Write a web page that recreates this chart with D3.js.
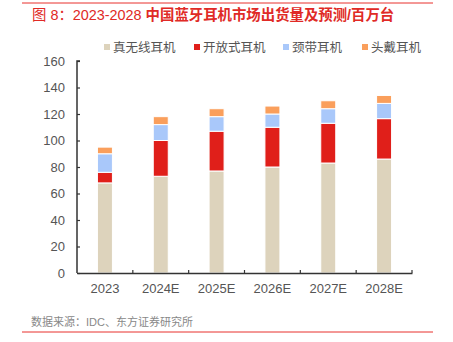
<!DOCTYPE html>
<html>
<head>
<meta charset="utf-8">
<script src="https://cdn.jsdelivr.net/npm/d3@7"></script>
<style>
  body { margin: 0; background: #fff; }
  svg { display: block; font-family: "Liberation Sans", "Noto Sans CJK SC", sans-serif; }
</style>
</head>
<body>
<svg id="chart" width="453" height="342"></svg>
<script>
var years = ["2023", "2024E", "2025E", "2026E", "2027E", "2028E"];
var seriesNames = ["真无线耳机", "开放式耳机", "颈带耳机", "头戴耳机"];
var tws = [68, 73, 77, 80, 83, 86];
var openEar = [8, 27, 30, 30, 30, 30.5];
var neckband = [14, 12, 11, 10, 11, 11.5];
var headset = [5, 6, 6, 6, 6, 6];
var yTicks = [0, 20, 40, 60, 80, 100, 120, 140, 160];
var colors = ["#ddd3bc", "#e01f1a", "#a9c8fa", "#fa9f5c"];

var svg = d3.select("#chart");

// red rules top and bottom
svg.append("line").attr("x1", 22).attr("x2", 433).attr("y1", 3).attr("y2", 3)
  .style("stroke", "#e8312c").style("stroke-width", 1);
svg.append("line").attr("x1", 22).attr("x2", 433).attr("y1", 332).attr("y2", 332)
  .style("stroke", "#e8312c").style("stroke-width", 1);

// title
var title = svg.append("text").attr("x", 32).attr("y", 20)
  .style("fill", "#e02a26").style("font-size", "14.4px");
title.append("tspan").text("图 8：2023-2028 ");
title.append("tspan").style("font-weight", "bold").text("中国蓝牙耳机市场出货量及预测/百万台");

var rows = years.map(function(y, i) {
  return {year: y, s0: tws[i], s1: openEar[i], s2: neckband[i], s3: headset[i]};
});
var stack = d3.stack().keys(["s0", "s1", "s2", "s3"])(rows);

var x = d3.scaleBand().domain(years).range([77, 412]).paddingInner(0).paddingOuter(0);
var y = d3.scaleLinear().domain([0, 160]).range([273, 61]);
var barW = 15;

var g = svg.append("g");
stack.forEach(function(layer, k) {
  g.selectAll("rect.s" + k)
    .data(layer)
    .enter().append("rect")
    .attr("x", function(d) { return x(d.data.year) + x.bandwidth() / 2 - barW / 2; })
    .attr("y", function(d) { return y(d[1]); })
    .attr("width", barW)
    .attr("height", function(d) { return y(d[0]) - y(d[1]); })
    .style("fill", colors[k])
    .style("stroke", "#fff")
    .style("stroke-width", 1);
});

// y axis
var yAxis = svg.append("g").attr("transform", "translate(77,0)")
  .call(d3.axisRight(y).tickValues(yTicks).tickSize(3).tickFormat(d3.format("d")));
yAxis.select(".domain").style("stroke", "#333").style("stroke-width", 1.5)
  .attr("d", "M3," + y(160) + "H0V" + y(0));
yAxis.selectAll(".tick line").style("stroke", "#333").style("stroke-width", 1.2);
yAxis.selectAll(".tick text").attr("x", -12).style("text-anchor", "end")
  .style("fill", "#555").style("font-size", "13px");

// x axis
var xAxis = svg.append("g").attr("transform", "translate(0,273)")
  .call(d3.axisBottom(x).tickSize(0).tickPadding(11));
xAxis.select(".domain").style("stroke", "#333").style("stroke-width", 1.5);
xAxis.selectAll(".tick text").style("fill", "#555").style("font-size", "13px");
svg.append("g").selectAll("line.xt")
  .data(years.slice(1).concat(["end"]))
  .enter().append("line")
  .attr("x1", function(d, i) { return 77 + x.bandwidth() * (i + 1); })
  .attr("x2", function(d, i) { return 77 + x.bandwidth() * (i + 1); })
  .attr("y1", 273).attr("y2", 270)
  .style("stroke", "#333").style("stroke-width", 1.2);

// legend
var legendX = [104, 194, 283, 362];
var legend = svg.append("g").selectAll("g")
  .data(seriesNames)
  .enter().append("g")
  .attr("transform", function(d, i) { return "translate(" + legendX[i] + ",47)"; });
legend.append("rect").attr("x", 0).attr("y", -3).attr("width", 6).attr("height", 6)
  .style("fill", function(d, i) { return colors[i]; });
legend.append("text").attr("x", 9).attr("y", 5)
  .style("fill", "#555").style("font-size", "12.5px").text(function(d) { return d; });

// source
svg.append("text").attr("x", 31).attr("y", 326)
  .style("fill", "#888").style("font-size", "11px")
  .text("数据来源：IDC、东方证券研究所");
</script>
</body>
</html>
